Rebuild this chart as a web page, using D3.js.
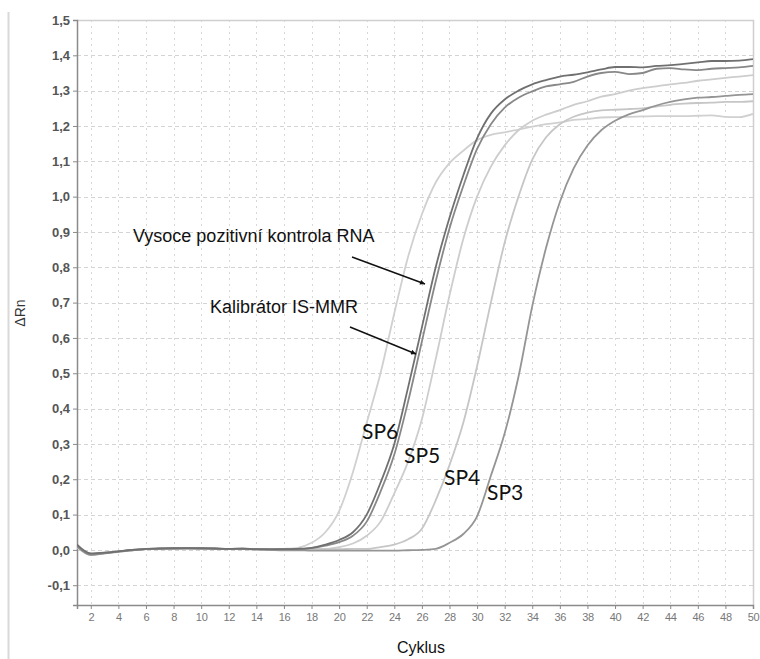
<!DOCTYPE html>
<html>
<head>
<meta charset="utf-8">
<script src="https://cdn.jsdelivr.net/npm/d3@7"></script>
<style>
  html, body { margin: 0; padding: 0; background: #fff; }
  svg { display: block; }
</style>
</head>
<body>
<svg id="chart" width="760" height="659"></svg>
<script>
// ---- data ----
const cycles = [1,2,3,4,5,6,7,8,9,10,11,12,13,14,15,16,17,18,19,20,21,22,23,24,25,26,27,28,29,30,31,32,33,34,35,36,37,38,39,40,41,42,43,44,45,46,47,48,49,50];
const xTickLabels = [2,4,6,8,10,12,14,16,18,20,22,24,26,28,30,32,34,36,38,40,42,44,46,48,50];
const yTickValues = [-0.1,0.0,0.1,0.2,0.3,0.4,0.5,0.6,0.7,0.8,0.9,1.0,1.1,1.2,1.3,1.4,1.5];

const seriesNames = ["SP6","SP5","SP4","SP3","Kalibrátor IS-MMR","Vysoce pozitivní kontrola RNA"];

const sp6 = [0.008,-0.015,-0.010,-0.006,-0.001,0.002,0.003,0.004,0.004,0.004,0.003,0.002,0.003,0.002,0.002,0.003,0.006,0.020,0.050,0.110,0.220,0.360,0.500,0.670,0.830,0.950,1.040,1.095,1.130,1.160,1.175,1.182,1.190,1.198,1.205,1.210,1.217,1.220,1.224,1.225,1.226,1.227,1.228,1.228,1.228,1.229,1.230,1.226,1.225,1.234];
const sp5 = [0.012,-0.012,-0.009,-0.004,0.000,0.003,0.004,0.005,0.005,0.004,0.004,0.003,0.003,0.002,0.002,0.002,0.002,0.003,0.003,0.008,0.018,0.040,0.080,0.160,0.250,0.370,0.540,0.720,0.880,1.000,1.085,1.145,1.188,1.215,1.232,1.245,1.260,1.270,1.283,1.290,1.300,1.307,1.312,1.318,1.322,1.328,1.332,1.336,1.340,1.344];
const sp4 = [0.010,-0.013,-0.009,-0.005,-0.001,0.002,0.003,0.004,0.004,0.004,0.003,0.002,0.003,0.001,0.001,0.001,0.001,0.002,0.002,0.002,0.003,0.003,0.008,0.015,0.030,0.060,0.140,0.240,0.360,0.520,0.700,0.870,1.000,1.105,1.168,1.205,1.226,1.238,1.244,1.246,1.248,1.250,1.255,1.260,1.263,1.265,1.266,1.268,1.268,1.270];
const sp3 = [0.014,-0.011,-0.008,-0.004,0.000,0.002,0.003,0.004,0.004,0.004,0.003,0.002,0.002,0.001,0.000,-0.001,-0.001,-0.002,-0.002,-0.002,-0.002,-0.002,-0.002,-0.002,-0.001,0.000,0.003,0.020,0.045,0.095,0.210,0.330,0.490,0.690,0.855,0.985,1.080,1.145,1.188,1.215,1.233,1.245,1.258,1.268,1.275,1.280,1.282,1.285,1.288,1.290];
const calibrator = [0.010,-0.014,-0.010,-0.005,-0.001,0.002,0.004,0.004,0.005,0.004,0.004,0.002,0.003,0.002,0.001,0.002,0.002,0.005,0.012,0.022,0.040,0.080,0.165,0.270,0.420,0.590,0.760,0.910,1.030,1.135,1.205,1.252,1.280,1.298,1.312,1.318,1.325,1.340,1.350,1.353,1.347,1.350,1.362,1.364,1.360,1.358,1.362,1.364,1.366,1.370];
const highControl = [0.015,-0.010,-0.008,-0.004,0.000,0.003,0.004,0.005,0.005,0.005,0.004,0.003,0.004,0.002,0.002,0.002,0.003,0.006,0.015,0.028,0.050,0.100,0.190,0.300,0.460,0.630,0.800,0.940,1.060,1.165,1.235,1.275,1.300,1.318,1.330,1.340,1.345,1.352,1.360,1.367,1.367,1.366,1.370,1.372,1.376,1.380,1.384,1.384,1.385,1.389];

const seriesValues = [sp6, sp5, sp4, sp3, calibrator, highControl];
const seriesColors = ["#d0d0d0","#cdcdcd","#c6c6c6","#959595","#888888","#707070"];

const curveLabels = ["SP6","SP5","SP4","SP3"];
const curveLabelPos = [[362,439],[404,463],[444,485],[487,500]];

// ---- layout ----
const svg = d3.select("#chart");
const L = 77, R = 753, T = 20, B = 605;
const x = d3.scaleLinear().domain([1, 50]).range([L, R]);
const y = d3.scaleLinear().domain([-0.156, 1.5]).range([B, T]);

// page edge line on the left
svg.append("line").attr("x1", 8.5).attr("x2", 8.5).attr("y1", 12).attr("y2", 659)
  .attr("stroke", "#d9d9d9").attr("stroke-width", 2);

// grid
const grid = svg.append("g");
grid.selectAll("line.h").data(yTickValues.filter(v => v < 1.45)).join("line")
  .attr("x1", L).attr("x2", R)
  .attr("y1", d => Math.round(y(d)) + 0.5).attr("y2", d => Math.round(y(d)) + 0.5)
  .attr("stroke", "#d4d4d4").attr("stroke-width", 1).attr("stroke-dasharray", "4,3");
grid.selectAll("line.v").data(xTickLabels.filter(v => v < 50)).join("line")
  .attr("x1", d => Math.round(x(d)) + 0.5).attr("x2", d => Math.round(x(d)) + 0.5)
  .attr("y1", T).attr("y2", B)
  .attr("stroke", "#d8d8d8").attr("stroke-width", 1).attr("stroke-dasharray", "2,4");

// top/right border
svg.append("path").attr("d", `M${L},${T + 0.5}H${R + 0.5}V${B}`)
  .attr("fill", "none").attr("stroke", "#cfcfcf").attr("stroke-width", 1.5);

// axes
const yAxis = d3.axisLeft(y).tickValues(yTickValues).tickSize(4).tickPadding(3)
  .tickFormat(d => d3.format(".1f")(d).replace(".", ",").replace("−", "-"));
const gy = svg.append("g").attr("transform", `translate(${L},0)`).call(yAxis);
gy.select(".domain").attr("stroke", "#8a8a8a").attr("stroke-width", 1.5);
gy.selectAll(".tick line").attr("stroke", "#8a8a8a");
gy.selectAll(".tick text").attr("fill", "#555").attr("font-size", 13)
  .attr("font-family", "Liberation Sans, Arial, sans-serif").attr("font-weight", "bold");

const xAxis = d3.axisBottom(x).tickValues(xTickLabels).tickSize(4).tickPadding(4);
const gx = svg.append("g").attr("transform", `translate(0,${B})`).call(xAxis);
gx.select(".domain").attr("stroke", "#8a8a8a").attr("stroke-width", 1.5);
gx.selectAll(".tick line").attr("stroke", "#8a8a8a");
gx.selectAll(".tick text").attr("fill", "#777").attr("font-size", 11)
  .attr("font-family", "Liberation Sans Narrow, Liberation Sans, Arial, sans-serif")
  .attr("letter-spacing", "-0.3px");

// axis titles
svg.append("text").attr("transform", "translate(25,313) rotate(-90)")
  .attr("text-anchor", "middle").attr("font-size", 14)
  .attr("font-family", "Liberation Sans, Arial, sans-serif").attr("fill", "#333").text("ΔRn");
svg.append("text").attr("x", 421).attr("y", 653)
  .attr("text-anchor", "middle").attr("font-size", 16)
  .attr("font-family", "Liberation Sans, Arial, sans-serif").attr("fill", "#111").text("Cyklus");

// curves
const line = d3.line().x((d, i) => x(cycles[i])).y(d => y(d)).curve(d3.curveMonotoneX);
const clip = svg.append("clipPath").attr("id", "clip").append("rect")
  .attr("x", L).attr("y", T).attr("width", R - L).attr("height", B - T);
svg.append("g").attr("clip-path", "url(#clip)")
  .selectAll("path").data(seriesValues).join("path")
  .attr("d", d => line(d))
  .attr("fill", "none")
  .attr("stroke", (d, i) => seriesColors[i])
  .attr("stroke-width", 1.8)
  .attr("stroke-linejoin", "round");

// curve labels
svg.selectAll("text.sp").data(curveLabels).join("text")
  .attr("class", "sp")
  .attr("x", (d, i) => curveLabelPos[i][0]).attr("y", (d, i) => curveLabelPos[i][1])
  .attr("font-size", 21).attr("font-family", "Lato, Noto Sans, sans-serif")
  .attr("fill", "#111").text(d => d);

// annotations with arrows
const defs = svg.append("defs");
defs.append("marker").attr("id", "arrow").attr("viewBox", "0 0 10 10")
  .attr("refX", 10).attr("refY", 5).attr("markerWidth", 7).attr("markerHeight", 5)
  .attr("markerUnits", "userSpaceOnUse").attr("orient", "auto")
  .append("path").attr("d", "M0,0L10,5L0,10Z").attr("fill", "#111");

const notes = [
  {text: "Vysoce pozitivní kontrola RNA", tx: 133, ty: 242, x1: 352, y1: 257, x2: 425, y2: 284},
  {text: "Kalibrátor IS-MMR", tx: 210, ty: 313, x1: 350, y1: 327, x2: 416, y2: 354}
];
notes.forEach(n => {
  svg.append("text").attr("x", n.tx).attr("y", n.ty).attr("font-size", 18)
    .attr("font-family", "Liberation Sans, Arial, sans-serif").attr("fill", "#111").text(n.text);
  svg.append("line").attr("x1", n.x1).attr("y1", n.y1).attr("x2", n.x2).attr("y2", n.y2)
    .attr("stroke", "#111").attr("stroke-width", 1.5).attr("marker-end", "url(#arrow)");
});
</script>
</body>
</html>
